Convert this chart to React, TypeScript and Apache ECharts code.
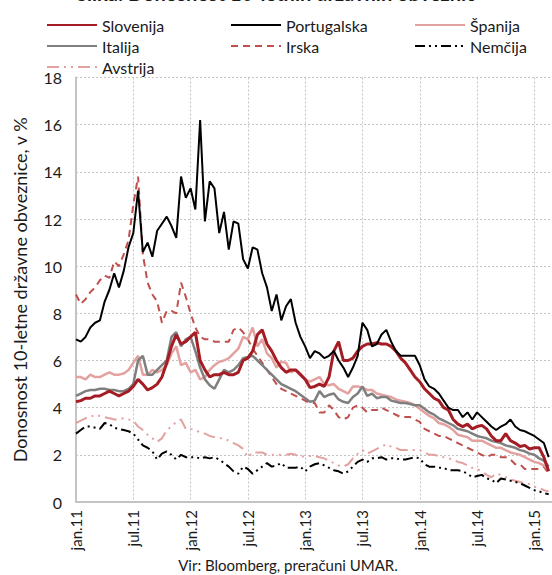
import React, { useEffect, useRef } from "react";
import * as echarts from "echarts";

// Observations: 1st and 16th of each month, Jan 2011 – Feb 2015 (x = months since Jan 2011)
const xTickLabels = ["jan.11", "jul.11", "jan.12", "jul.12", "jan.13", "jul.13", "jan.14", "jul.14", "jan.15"];
const yTicks = [0, 2, 4, 6, 8, 10, 12, 14, 16, 18];

const slovenija = [4.25, 4.3, 4.4, 4.4, 4.5, 4.5, 4.6, 4.7, 4.6, 4.5, 4.6, 4.7, 4.9, 5.2, 5.0, 4.75, 4.85, 5.0, 5.3, 5.9, 6.6, 7.1, 6.7, 6.8, 7.0, 7.2, 6.0, 5.6, 5.3, 5.4, 5.4, 5.5, 5.4, 5.4, 5.5, 6.0, 6.1, 6.4, 7.1, 7.3, 6.7, 6.4, 6.0, 5.7, 5.5, 5.6, 5.6, 5.4, 5.2, 4.85, 4.9, 5.0, 4.9, 5.3, 6.4, 6.8, 6.0, 6.0, 6.1, 6.4, 6.6, 6.7, 6.7, 6.75, 6.7, 6.7, 6.6, 6.4, 6.1, 5.9, 5.6, 5.3, 5.1, 4.8, 4.6, 4.4, 4.3, 4.0, 3.9, 3.5, 3.3, 3.2, 3.3, 3.1, 3.2, 3.25, 3.1, 2.8, 2.6, 2.6, 2.9, 2.6, 2.5, 2.35, 2.4, 2.25, 2.3, 2.3, 1.9, 1.3];
const portugalska = [6.9, 6.8, 7.0, 7.4, 7.6, 7.7, 8.5, 9.0, 9.7, 9.1, 9.8, 10.8, 11.4, 13.2, 10.6, 11.0, 10.4, 11.5, 11.8, 12.1, 11.7, 11.2, 13.8, 12.9, 13.3, 12.4, 16.2, 11.9, 13.6, 13.3, 11.4, 12.3, 10.7, 11.9, 11.8, 10.3, 9.9, 10.8, 10.7, 9.7, 9.1, 8.1, 8.8, 7.7, 8.3, 8.6, 7.6, 7.0, 6.6, 6.1, 6.4, 6.3, 6.1, 6.2, 6.4, 6.0, 5.7, 5.3, 5.7, 6.2, 7.6, 7.3, 6.6, 6.7, 7.1, 7.3, 6.8, 6.4, 6.2, 6.2, 6.2, 6.2, 5.8, 5.2, 4.9, 4.8, 4.6, 4.3, 4.0, 3.9, 3.9, 3.6, 3.8, 3.5, 3.8, 3.6, 3.4, 3.2, 3.05, 3.2, 3.3, 3.5, 3.2, 3.05, 3.0, 2.9, 2.8, 2.65, 2.5, 1.9];
const spanija = [5.3, 5.3, 5.2, 5.4, 5.3, 5.3, 5.4, 5.5, 5.4, 5.4, 5.45, 5.6, 5.9, 6.2, 5.4, 5.4, 5.6, 5.5, 5.6, 5.8, 6.3, 6.6, 5.8, 5.9, 5.5, 5.6, 5.2, 5.3, 5.6, 5.8, 5.95, 6.0, 6.1, 6.3, 6.5, 7.0, 6.9, 7.4, 6.6, 6.9, 6.3, 6.1, 5.7, 5.95, 5.9, 5.5, 5.6, 5.45, 5.2, 5.1, 5.2, 5.3, 5.0, 4.95, 5.0, 4.8, 4.7, 4.6, 4.9, 4.9, 4.85, 4.75, 4.75, 4.6, 4.55, 4.5, 4.45, 4.35, 4.3, 4.25, 4.2, 4.1, 3.95, 3.8, 3.65, 3.55, 3.35, 3.3, 3.2, 3.05, 2.85, 2.8, 2.75, 2.6, 2.6, 2.6, 2.5, 2.4, 2.3, 2.3, 2.2, 2.1, 2.05, 2.0, 1.9, 1.8, 1.7, 1.65, 1.55, 1.35];
const italija = [4.5, 4.6, 4.7, 4.75, 4.75, 4.8, 4.8, 4.75, 4.75, 4.7, 4.7, 4.8, 5.0, 6.0, 6.2, 5.4, 5.4, 5.6, 5.8, 6.0, 7.0, 7.2, 6.6, 6.9, 7.0, 6.4, 5.7, 5.2, 4.95, 4.8, 5.2, 5.6, 5.5, 5.6, 5.8, 6.1, 6.15, 6.2, 6.0, 5.8, 5.6, 5.4, 5.2, 5.0, 4.9, 4.8, 4.7, 4.55, 4.4, 4.25, 4.3, 4.7, 4.45, 4.55, 4.6, 4.35, 4.25, 4.2, 4.45, 4.6, 4.9, 4.5, 4.6, 4.4, 4.45, 4.45, 4.3, 4.25, 4.2, 4.2, 4.15, 4.1, 4.1, 3.95, 3.8, 3.7, 3.55, 3.45, 3.35, 3.25, 3.1, 3.05, 3.0, 2.9, 2.8, 2.75, 2.7, 2.6, 2.55, 2.5, 2.4, 2.35, 2.3, 2.2, 2.15, 2.05, 2.0, 1.85, 1.75, 1.5];
const irska = [8.8, 8.4, 8.6, 8.9, 9.1, 9.4, 9.6, 9.5, 10.2, 10.0, 10.5, 11.1, 12.6, 13.8, 10.5, 9.3, 8.8, 8.5, 7.6, 8.1, 8.1, 8.0, 9.3, 8.7, 8.0, 7.4, 7.0, 6.9, 6.9, 6.8, 6.8, 6.8, 6.8, 7.3, 7.4, 7.2, 6.9, 6.5, 6.2, 5.9, 5.6, 5.3, 5.0, 4.8, 4.7, 4.6, 4.5, 4.4, 4.3, 4.2, 4.2, 3.8, 3.8, 4.1, 3.9, 3.6, 3.5, 3.6, 4.0, 4.1, 4.0, 3.8, 3.9, 3.9, 4.0, 3.9, 3.8, 3.7, 3.6, 3.6, 3.6, 3.5, 3.4, 3.1, 3.0, 2.9, 2.8, 2.8, 2.7, 2.6, 2.5, 2.4, 2.3, 2.2, 2.1, 2.0, 1.9, 2.0, 2.0, 1.9, 1.9, 1.8, 1.6, 1.6, 1.4, 1.4, 1.4, 1.4, 1.5, 1.2];
const nemcija = [2.9, 3.05, 3.2, 3.2, 3.15, 3.1, 3.35, 3.3, 3.15, 3.1, 3.05, 3.0, 2.9, 2.65, 2.4, 2.3, 2.15, 1.8, 2.05, 2.15, 2.0, 1.8, 2.0, 1.9, 1.9, 1.9, 1.85, 1.9, 1.85, 1.9, 1.8, 1.65, 1.5, 1.3, 1.2, 1.5, 1.4, 1.2, 1.35, 1.5, 1.65, 1.5, 1.55, 1.65, 1.45, 1.45, 1.45, 1.5, 1.3, 1.5, 1.6, 1.65, 1.55, 1.45, 1.35, 1.3, 1.2, 1.3, 1.5, 1.7, 1.8, 1.7, 1.85, 1.85, 1.9, 1.8, 1.85, 1.85, 1.8, 1.8, 1.85, 1.9, 1.85, 1.6, 1.5, 1.5, 1.45, 1.45, 1.35, 1.35, 1.35, 1.3, 1.2, 1.05, 1.1, 1.15, 1.0, 0.95, 0.8, 1.0, 0.95, 0.9, 0.85, 0.8, 0.7, 0.6, 0.5, 0.45, 0.38, 0.33];
const avstrija = [3.35, 3.45, 3.55, 3.6, 3.7, 3.65, 3.6, 3.55, 3.5, 3.5, 3.55, 3.5, 3.45, 3.2, 3.05, 2.85, 2.7, 2.55, 2.7, 3.05, 3.2, 3.4, 3.5, 3.1, 3.1, 3.05, 2.95, 2.9, 2.8, 2.75, 2.7, 2.7, 2.6, 2.5, 2.4, 2.25, 1.9, 2.1, 2.1, 2.1, 2.0, 2.0, 2.0, 2.0, 2.0, 2.05, 2.0, 1.9, 1.95, 1.95, 1.95, 1.9, 1.85, 1.75, 1.65, 1.55, 1.5, 1.6, 1.85, 2.05, 2.2, 2.05, 2.15, 2.25, 2.35, 2.45, 2.35, 2.3, 2.2, 2.2, 2.2, 2.2, 2.2, 2.1, 2.0, 2.0, 1.95, 1.9, 1.85, 1.8, 1.7, 1.65, 1.55, 1.45, 1.4, 1.3, 1.15, 1.05, 1.2, 1.15, 1.05, 0.95, 0.9, 0.85, 0.8, 0.75, 0.65, 0.6, 0.5, 0.45];

const FONT = "Lato, 'Open Sans', sans-serif";
const TXT = "#1a1a1a";
const GRID = "#c4c4c4";

function toPairs(values: number[]) {
  return values.map((v, i) => [i / 2, v]);
}

export default function App() {
  const ref = useRef<HTMLDivElement>(null);

  useEffect(() => {
    if (!ref.current) return;
    const chart = echarts.init(ref.current, undefined, { renderer: "svg" });

    const mk = (name: string, data: number[], color: string, width: number, type: any) => ({
      name,
      type: "line",
      data: toPairs(data),
      symbol: "none",
      smooth: false,
      lineStyle: { color, width, type },
      itemStyle: { color },
    });

    const legendBase = {
      orient: "vertical",
      top: 12,
      itemWidth: 50,
      itemHeight: 16,
      itemGap: 5,
      itemStyle: { color: "rgba(0,0,0,0)", borderColor: "rgba(0,0,0,0)", borderWidth: 0, opacity: 0 },
      textStyle: { fontSize: 16, color: TXT, fontFamily: FONT, lineHeight: 16 },
    };

    const option: any = {
      animation: false,
      textStyle: { fontFamily: FONT },
      grid: { left: 76, right: 0, top: 77.5, bottom: 73, containLabel: false },
      legend: [
        { ...legendBase, data: ["Slovenija", "Italija", "Avstrija"], left: 41 },
        { ...legendBase, data: ["Portugalska", "Irska"], left: 225 },
        { ...legendBase, data: ["Španija", "Nemčija"], left: 409 },
      ],
      xAxis: {
        type: "value",
        min: 0,
        max: 49.85,
        interval: 6,
        axisLine: { show: true, lineStyle: { color: GRID, width: 2 } },
        axisTick: { show: false },
        splitLine: { show: true, lineStyle: { color: GRID, type: [2, 2], width: 1 } },
        axisLabel: {
          rotate: 90,
          margin: 8,
          fontSize: 15,
          color: TXT,
          fontFamily: FONT,
          showMaxLabel: false,
          formatter: (v: number) => {
            const k = Math.round(v / 6);
            return Math.abs(v - k * 6) < 1e-6 && xTickLabels[k] ? xTickLabels[k] : "";
          },
        },
      },
      yAxis: {
        type: "value",
        min: yTicks[0],
        max: yTicks[yTicks.length - 1],
        interval: 2,
        name: "Donosnost 10-letne državne obveznice, v %",
        nameLocation: "middle",
        nameGap: 47,
        nameTextStyle: { fontSize: 18, color: TXT, fontFamily: FONT },
        axisLine: { show: true, lineStyle: { color: GRID, width: 2 } },
        axisTick: { show: false },
        splitLine: { show: true, lineStyle: { color: GRID, type: [2, 2], width: 1 } },
        axisLabel: { fontSize: 16, color: TXT, fontFamily: FONT, margin: 14 },
      },
      graphic: [
        {
          type: "text",
          left: "center",
          top: -17,
          style: {
            text: "Slika: Donosnost 10-letnih državnih obveznic",
            font: "bold 20px Lato, sans-serif",
            fill: TXT,
          },
        },
        {
          type: "text",
          x: 288,
          y: 565,
          style: {
            text: "Vir: Bloomberg, preračuni UMAR.",
            font: "15px Lato, sans-serif",
            fill: TXT,
            textAlign: "center",
            textVerticalAlign: "middle",
          },
        },
      ],
      series: [
        mk("Avstrija", avstrija, "#e3a2a0", 2, [12, 5, 2, 5, 2, 5]),
        mk("Nemčija", nemcija, "#000000", 2, [10, 4, 2, 4, 2, 4]),
        mk("Irska", irska, "#c0504d", 2, [7, 5]),
        mk("Španija", spanija, "#e3a2a0", 2.5, "solid"),
        mk("Italija", italija, "#7f7f7f", 2.5, "solid"),
        mk("Slovenija", slovenija, "#a51d24", 3, "solid"),
        mk("Portugalska", portugalska, "#000000", 2, "solid"),
      ],
    };

    chart.setOption(option);
    return () => chart.dispose();
  }, []);

  return (
    <div
      ref={ref}
      style={{ position: "fixed", left: 0, top: 0, width: 552, height: 575, background: "#fff" }}
    />
  );
}
